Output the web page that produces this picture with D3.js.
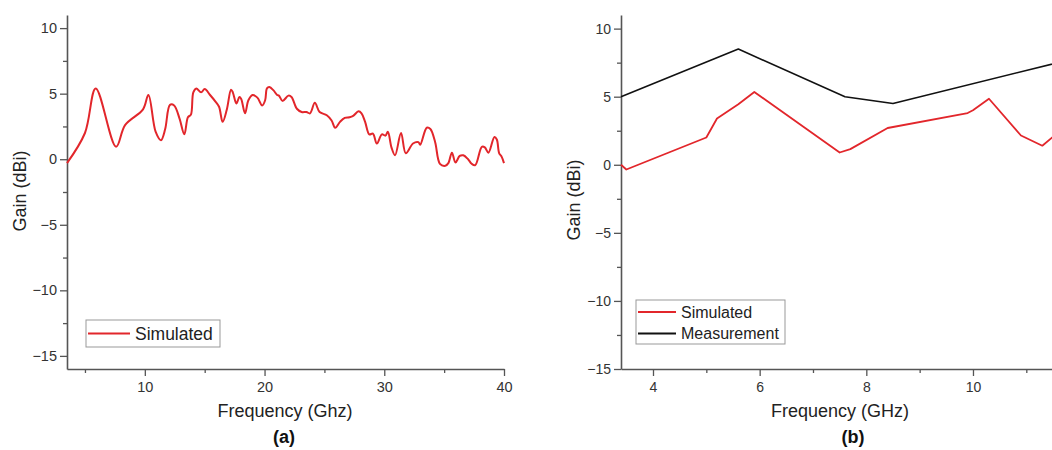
<!DOCTYPE html>
<html>
<head>
<meta charset="utf-8">
<script src="https://cdn.jsdelivr.net/npm/d3@7"></script>
<style>
  body { margin: 0; background: #fff; }
  svg { display: block; font-family: "Liberation Sans", Arial, sans-serif; }
</style>
</head>
<body>
<svg id="chart" width="1052" height="450"></svg>
<script>
// (a) simulated gain over the full band
const aFreq = [3.5, 5.0, 5.9, 7.6, 8.35, 9.85, 10.3, 10.9, 11.35, 11.7, 12.1, 12.45, 12.9, 13.3, 13.6, 13.85,
  14.05, 14.3, 14.7, 15.0, 15.45, 15.9, 16.2, 16.5, 16.85, 17.2, 17.35, 17.65, 17.9, 18.05, 18.37, 18.65,
  19.0, 19.4, 19.8, 20.05, 20.2, 20.4, 20.75, 21.05, 21.2, 21.5, 22.0, 22.25, 22.7, 23.1, 23.5, 23.8,
  24.2, 24.6, 25.2, 25.6, 25.9, 26.3, 26.7, 27.1, 27.4, 27.85, 28.1, 28.4, 28.75, 29.05, 29.38, 29.8,
  30.1, 30.3, 30.6, 30.9, 31.4, 31.8, 32.4, 32.85, 33.0, 33.55, 33.85, 34.25, 34.65, 35.1, 35.35, 35.65,
  35.95, 36.3, 36.6, 37.0, 37.3, 37.6, 38.15, 38.4, 38.7, 39.2, 39.4, 39.6, 39.8, 40.0];
const aGain = [-0.3, 2.0, 5.4, 0.95, 2.6, 3.8, 4.9, 2.1, 1.45, 2.3, 4.15, 4.1, 3.1, 1.9, 3.2, 3.4,
  5.1, 5.4, 5.1, 5.35, 4.9, 4.4, 4.0, 2.85, 3.8, 5.3, 5.1, 4.25, 4.75, 4.6, 3.5, 4.5,
  4.9, 4.7, 4.1, 4.5, 5.4, 5.5, 5.25, 4.9, 4.85, 4.45, 4.85, 4.75, 3.85, 3.6, 3.6, 3.5,
  4.3, 3.6, 3.35, 2.95, 2.4, 2.85, 3.15, 3.2, 3.3, 3.65, 3.5, 2.85, 1.9, 1.95, 1.2, 1.9,
  1.8, 2.1, 0.9, 0.3, 2.0, 0.45, 1.2, 1.3, 1.1, 2.4, 2.3, 1.3, -0.35, -0.5, -0.3, 0.5,
  -0.25, 0.25, 0.3, 0.0, -0.35, -0.45, 0.95, 0.9, 0.5, 1.7, 1.5, 0.45, 0.2, -0.3];

// (b) simulated vs measured
const bSimFreq = [3.4, 3.5, 5.0, 5.2, 5.6, 5.9, 7.5, 7.7, 8.4, 9.9, 10.0, 10.3, 10.9, 11.3, 11.5];
const bSimGain = [0.0, -0.35, 2.0, 3.4, 4.45, 5.35, 0.9, 1.15, 2.7, 3.8, 4.0, 4.85, 2.15, 1.4, 2.05];
const bMeasFreq = [3.4, 5.6, 7.6, 8.5, 12.0];
const bMeasGain = [5.0, 8.5, 5.0, 4.5, 7.9];

const yMajor = [-15, -10, -5, 0, 5, 10];
const yMinor = [-12.5, -7.5, -2.5, 2.5, 7.5];
const aXMajor = [10, 20, 30, 40];
const aXMinor = [5, 15, 25, 35];
const bXMajor = [4, 6, 8, 10];
const bXMinor = [5, 7, 9, 11];

const RED = "#e2262b";
const AXIS = "#555";
const fmt = d => (d < 0 ? "\u2212" + Math.abs(d) : String(d));

const svg = d3.select("#chart");

function panel(o) {
  const g = svg.append("g");
  const x = d3.scaleLinear().domain(o.xDomain).range(o.xRange);
  const y = d3.scaleLinear().domain(o.yDomain).range([369, 15]);

  // minor ticks
  g.append("g").attr("transform", `translate(0,369)`)
    .call(d3.axisBottom(x).tickValues(o.xMinor).tickSize(4).tickFormat("").tickSizeOuter(0))
    .call(s => s.select(".domain").remove());
  g.append("g").attr("transform", `translate(${o.xRange[0]},0)`)
    .call(d3.axisLeft(y).tickValues(yMinor).tickSize(4).tickFormat("").tickSizeOuter(0))
    .call(s => s.select(".domain").remove());

  g.append("g").attr("transform", `translate(0,369)`)
    .call(d3.axisBottom(x).tickValues(o.xMajor).tickSize(7).tickPadding(6).tickFormat(fmt).tickSizeOuter(0));
  g.append("g").attr("transform", `translate(${o.xRange[0]},0)`)
    .call(d3.axisLeft(y).tickValues(yMajor).tickSize(7).tickPadding(3).tickFormat(fmt).tickSizeOuter(0));

  g.selectAll(".tick line").attr("stroke", AXIS).attr("stroke-width", 1.3);
  g.selectAll(".domain").attr("stroke", AXIS).attr("stroke-width", 1.6);
  g.selectAll(".tick text").attr("fill", "#333").style("font-size", o.tickFont + "px");

  // series
  o.series.forEach(s => {
    const pts = s.f.map((f, i) => [f, s.v[i]]);
    g.append("path")
      .datum(pts)
      .attr("fill", "none")
      .attr("stroke", s.color)
      .attr("stroke-width", s.w)
      .attr("stroke-linejoin", "round")
      .attr("d", d3.line().x(d => x(d[0])).y(d => y(d[1])).curve(s.curve));
  });

  // titles
  g.append("text")
    .attr("transform", `translate(${o.yTitleX},${o.yTitleY}) rotate(-90)`)
    .attr("text-anchor", "middle")
    .attr("fill", "#222").style("font-size", "18px")
    .text("Gain (dBi)");
  g.append("text")
    .attr("x", o.xTitleX).attr("y", 417)
    .attr("text-anchor", "middle")
    .attr("fill", "#222").style("font-size", "18px")
    .text(o.xTitle);
  g.append("text")
    .attr("x", o.labelX).attr("y", 443)
    .attr("text-anchor", "middle")
    .attr("fill", "#111").style("font-size", "18px").style("font-weight", "bold")
    .text(o.label);

  // legend
  const L = o.legend;
  g.append("rect")
    .attr("x", L.x).attr("y", L.y).attr("width", L.w).attr("height", L.h)
    .attr("fill", "#fff").attr("stroke", "#999").attr("stroke-width", 1);
  o.series.forEach((s, i) => {
    const yy = L.y + L.first + i * L.step;
    g.append("line")
      .attr("x1", L.x + 2).attr("x2", L.x + L.lineLen)
      .attr("y1", yy).attr("y2", yy)
      .attr("stroke", s.color).attr("stroke-width", 2);
    g.append("text")
      .attr("x", L.x + L.lineLen + 5).attr("y", yy)
      .attr("dy", "0.36em")
      .attr("fill", "#222").style("font-size", L.font + "px")
      .text(s.name);
  });
}

panel({
  xDomain: [3.5, 40], xRange: [67, 504], yDomain: [-16, 11],
  xMajor: aXMajor, xMinor: aXMinor, tickFont: 14.5,
  series: [{ name: "Simulated", f: aFreq, v: aGain, color: RED, w: 2, curve: d3.curveCatmullRom.alpha(0.5) }],
  yTitleX: 26, yTitleY: 191, xTitle: "Frequency (Ghz)", xTitleX: 285, label: "(a)", labelX: 284,
  legend: { x: 86, y: 320, w: 134, h: 27, first: 13.5, step: 21, lineLen: 44, font: 17.5 }
});

panel({
  xDomain: [3.4, 12], xRange: [621, 621 + 8.6 * 53.33], yDomain: [-15, 11],
  xMajor: bXMajor, xMinor: bXMinor, tickFont: 14,
  series: [
    { name: "Simulated", f: bSimFreq, v: bSimGain, color: RED, w: 1.8, curve: d3.curveLinear },
    { name: "Measurement", f: bMeasFreq, v: bMeasGain, color: "#111", w: 1.6, curve: d3.curveLinear }
  ],
  yTitleX: 580, yTitleY: 200, xTitle: "Frequency (GHz)", xTitleX: 840, label: "(b)", labelX: 853,
  legend: { x: 636, y: 300, w: 149, h: 44, first: 12, step: 21.5, lineLen: 40, font: 16 }
});
</script>
</body>
</html>
